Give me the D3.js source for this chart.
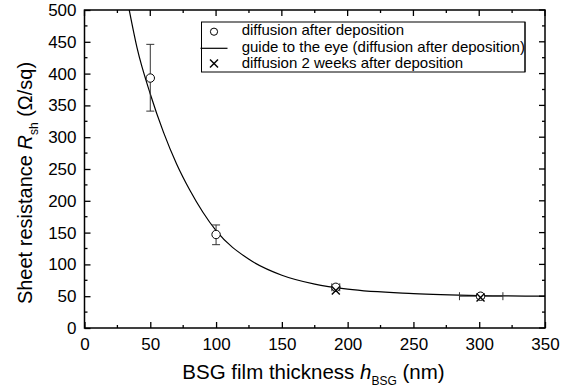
<!DOCTYPE html>
<html>
<head>
<meta charset="utf-8">
<style>
	body { margin: 0; background: #fff; }
	svg text { font-family: "Liberation Sans", Arial, sans-serif; fill: #000; }
	.frame { fill: none; stroke: #000; stroke-width: 1.5; }
	.tick-line { stroke: #000; stroke-width: 1.3; }
	.guide { fill: none; stroke: #000; stroke-width: 1.2; }
	.err { stroke: #333; stroke-width: 1; }
	.dot-open { fill: #fff; stroke: #000; stroke-width: 1; }
	.cross { stroke: #000; stroke-width: 1.4; }
</style>
</head>
<body>
<div class="vis-sheet"></div>
<script src="https://cdnjs.cloudflare.com/ajax/libs/d3/7.8.5/d3.min.js"></script>
<script>

	// Data //
	// ---- //

	// diffusion after deposition (open circles)
	let thickness = [50, 100, 191, 301];
	let resistance = [393, 147, 64, 50];
	let resErrLow = [341, 131, 60, 47];
	let resErrHigh = [446, 162, 68, 53];
	let thickErrLow = [50, 100, 188, 285];
	let thickErrHigh = [50, 100, 194, 318];

	// diffusion 2 weeks after deposition (crosses)
	let thickness2w = [191, 301];
	let resistance2w = [59, 48];

	// guide to the eye
	let guideX = [34, 40, 50, 60, 70, 80, 90, 100, 125, 150, 175, 200, 250, 300, 350];
	let guideY = [500, 440, 368, 308, 258, 217, 182, 153, 108, 83, 69, 61, 54, 51, 50];

	let xTicks = [0, 50, 100, 150, 200, 250, 300, 350];
	let yTicks = [0, 50, 100, 150, 200, 250, 300, 350, 400, 450, 500];

	let legendLabels = ["diffusion after deposition",
		"guide to the eye (diffusion after deposition)",
		"diffusion 2 weeks after deposition"];

	// Setup //
	// ----- //

	let W = 569, H = 392;
	let margin = {top: 10, right: 24, bottom: 64, left: 84.5};
	let width = 545 - margin.left,
		height = 328 - margin.top;

	let x = d3.scaleLinear().domain([0, 350]).range([0, width]);
	let y = d3.scaleLinear().domain([0, 500]).range([height, 0]);

	let svg = d3.select(".vis-sheet")
		.append("svg")
			.attr("width", W)
			.attr("height", H)
		.append("g")
			.attr("transform", "translate(" + margin.left + "," + margin.top + ")");

	// clip for plot area
	svg.append("clipPath").attr("id", "plotclip")
		.append("rect").attr("width", width).attr("height", height);

	// AXES (ticks inward, mirrored on top/right)
	let minorX = d3.range(25, 350, 50);
	let minorY = d3.range(25, 500, 50);

	let xAxis = d3.axisBottom(x).tickValues(xTicks).tickSizeInner(-6).tickSizeOuter(0).tickPadding(9.5);
	let yAxis = d3.axisLeft(y).tickValues(yTicks).tickSizeInner(-6).tickSizeOuter(0).tickPadding(8);

	let gx = svg.append("g").attr("transform", "translate(0," + height + ")").call(xAxis);
	let gy = svg.append("g").call(yAxis);
	[gx, gy].forEach(g => {
		g.select(".domain").remove();
		g.selectAll("line").attr("class", "tick-line");
		g.selectAll("text").style("font-size", "17px").style("font-family", '"Liberation Sans", Arial, sans-serif');
	});

	// minor + mirrored ticks
	let tickG = svg.append("g");
	xTicks.forEach(v => {
		tickG.append("line").attr("class", "tick-line").attr("x1", x(v)).attr("x2", x(v)).attr("y1", 0).attr("y2", 6);
	});
	minorX.forEach(v => {
		tickG.append("line").attr("class", "tick-line").attr("x1", x(v)).attr("x2", x(v)).attr("y1", height).attr("y2", height - 3);
		tickG.append("line").attr("class", "tick-line").attr("x1", x(v)).attr("x2", x(v)).attr("y1", 0).attr("y2", 3);
	});
	yTicks.forEach(v => {
		tickG.append("line").attr("class", "tick-line").attr("x1", width).attr("x2", width - 6).attr("y1", y(v)).attr("y2", y(v));
	});
	minorY.forEach(v => {
		tickG.append("line").attr("class", "tick-line").attr("x1", 0).attr("x2", 3).attr("y1", y(v)).attr("y2", y(v));
		tickG.append("line").attr("class", "tick-line").attr("x1", width).attr("x2", width - 3).attr("y1", y(v)).attr("y2", y(v));
	});

	// frame
	svg.append("rect").attr("class", "frame").attr("width", width).attr("height", height);

	// AXIS LABELS
	let xl = svg.append("text")
		.attr("x", (177 + 450) / 2 - margin.left)
		.attr("y", height + 51)
		.style("text-anchor", "middle")
		.style("font-size", "20.5px");
	xl.append("tspan").text("BSG film thickness ");
	xl.append("tspan").style("font-style", "italic").text("h");
	xl.append("tspan").attr("dy", 6).style("font-size", "12px").text("BSG");
	xl.append("tspan").attr("dy", -6).text(" (nm)");

	let yl = svg.append("text")
		.attr("transform", "rotate(-90)")
		.attr("x", -(183 - margin.top))
		.attr("y", -52.5)
		.style("text-anchor", "middle")
		.style("font-size", "20px");
	yl.append("tspan").text("Sheet resistance ");
	yl.append("tspan").style("font-style", "italic").text("R");
	yl.append("tspan").attr("dy", 6).style("font-size", "12px").text("sh");
	yl.append("tspan").attr("dy", -6).text(" (\u03A9/sq)");

	// GUIDE LINE
	let valueline = d3.line()
		.x(d => x(d[0]))
		.y(d => y(d[1]))
		.curve(d3.curveMonotoneX);

	svg.append("path")
		.datum(zip(guideX, guideY))
		.attr("class", "guide")
		.attr("clip-path", "url(#plotclip)")
		.attr("d", valueline);

	// ERROR BARS
	let pts = thickness.map((t, i) => ({x: t, y: resistance[i], ylo: resErrLow[i], yhi: resErrHigh[i], xlo: thickErrLow[i], xhi: thickErrHigh[i]}));
	let cap = 4;
	pts.forEach(d => {
		let g = svg.append("g");
		g.append("line").attr("class", "err").attr("x1", x(d.x)).attr("x2", x(d.x)).attr("y1", y(d.ylo)).attr("y2", y(d.yhi));
		g.append("line").attr("class", "err").attr("x1", x(d.x) - cap).attr("x2", x(d.x) + cap).attr("y1", y(d.ylo)).attr("y2", y(d.ylo));
		g.append("line").attr("class", "err").attr("x1", x(d.x) - cap).attr("x2", x(d.x) + cap).attr("y1", y(d.yhi)).attr("y2", y(d.yhi));
		if (d.xhi > d.xlo) {
			g.append("line").attr("class", "err").attr("x1", x(d.xlo)).attr("x2", x(d.xhi)).attr("y1", y(d.y)).attr("y2", y(d.y));
			g.append("line").attr("class", "err").attr("x1", x(d.xlo)).attr("x2", x(d.xlo)).attr("y1", y(d.y) - cap).attr("y2", y(d.y) + cap);
			g.append("line").attr("class", "err").attr("x1", x(d.xhi)).attr("x2", x(d.xhi)).attr("y1", y(d.y) - cap).attr("y2", y(d.y) + cap);
		}
	});

	// POINTS
	svg.selectAll(".dot-open")
		.data(pts)
		.enter().append("circle")
		.attr("class", "dot-open")
		.attr("cx", d => x(d.x))
		.attr("cy", d => y(d.y))
		.attr("r", 4.2);

	zip(thickness2w, resistance2w).forEach(d => {
		drawCross(svg, x(d[0]), y(d[1]), 4);
	});

	// LEGEND
	let lg = svg.append("g").attr("transform", "translate(" + (201.5 - margin.left) + "," + (22 - margin.top) + ")");
	lg.append("rect")
		.attr("width", 323.5).attr("height", 50)
		.style("fill", "#fff").style("stroke", "#000").style("stroke-width", 1);
	lg.append("circle").attr("class", "dot-open").attr("cx", 12.5).attr("cy", 9.7).attr("r", 3.6);
	lg.append("line").attr("class", "guide").attr("x1", -1).attr("x2", 26).attr("y1", 26.3).attr("y2", 26.3);
	drawCross(lg, 12.5, 41.5, 4);
	legendLabels.forEach((t, i) => {
		lg.append("text")
			.attr("x", 40.2)
			.attr("y", 13 + i * 16.7)
			.style("font-size", "15px")
			.text(t);
	});
	// right border drawn over the text, as in the original
	lg.append("line").attr("x1", 323.5).attr("x2", 323.5).attr("y1", 0).attr("y2", 50)
		.style("stroke", "#000").style("stroke-width", 1);

	function drawCross(g, cx, cy, s) {
		g.append("line").attr("class", "cross").attr("x1", cx - s).attr("x2", cx + s).attr("y1", cy - s).attr("y2", cy + s);
		g.append("line").attr("class", "cross").attr("x1", cx - s).attr("x2", cx + s).attr("y1", cy + s).attr("y2", cy - s);
	}

	// Utilities
	function zip(a, b) {
		return a.map((e, i) => [e, b[i]]);
	}
</script>
</body>
</html>
